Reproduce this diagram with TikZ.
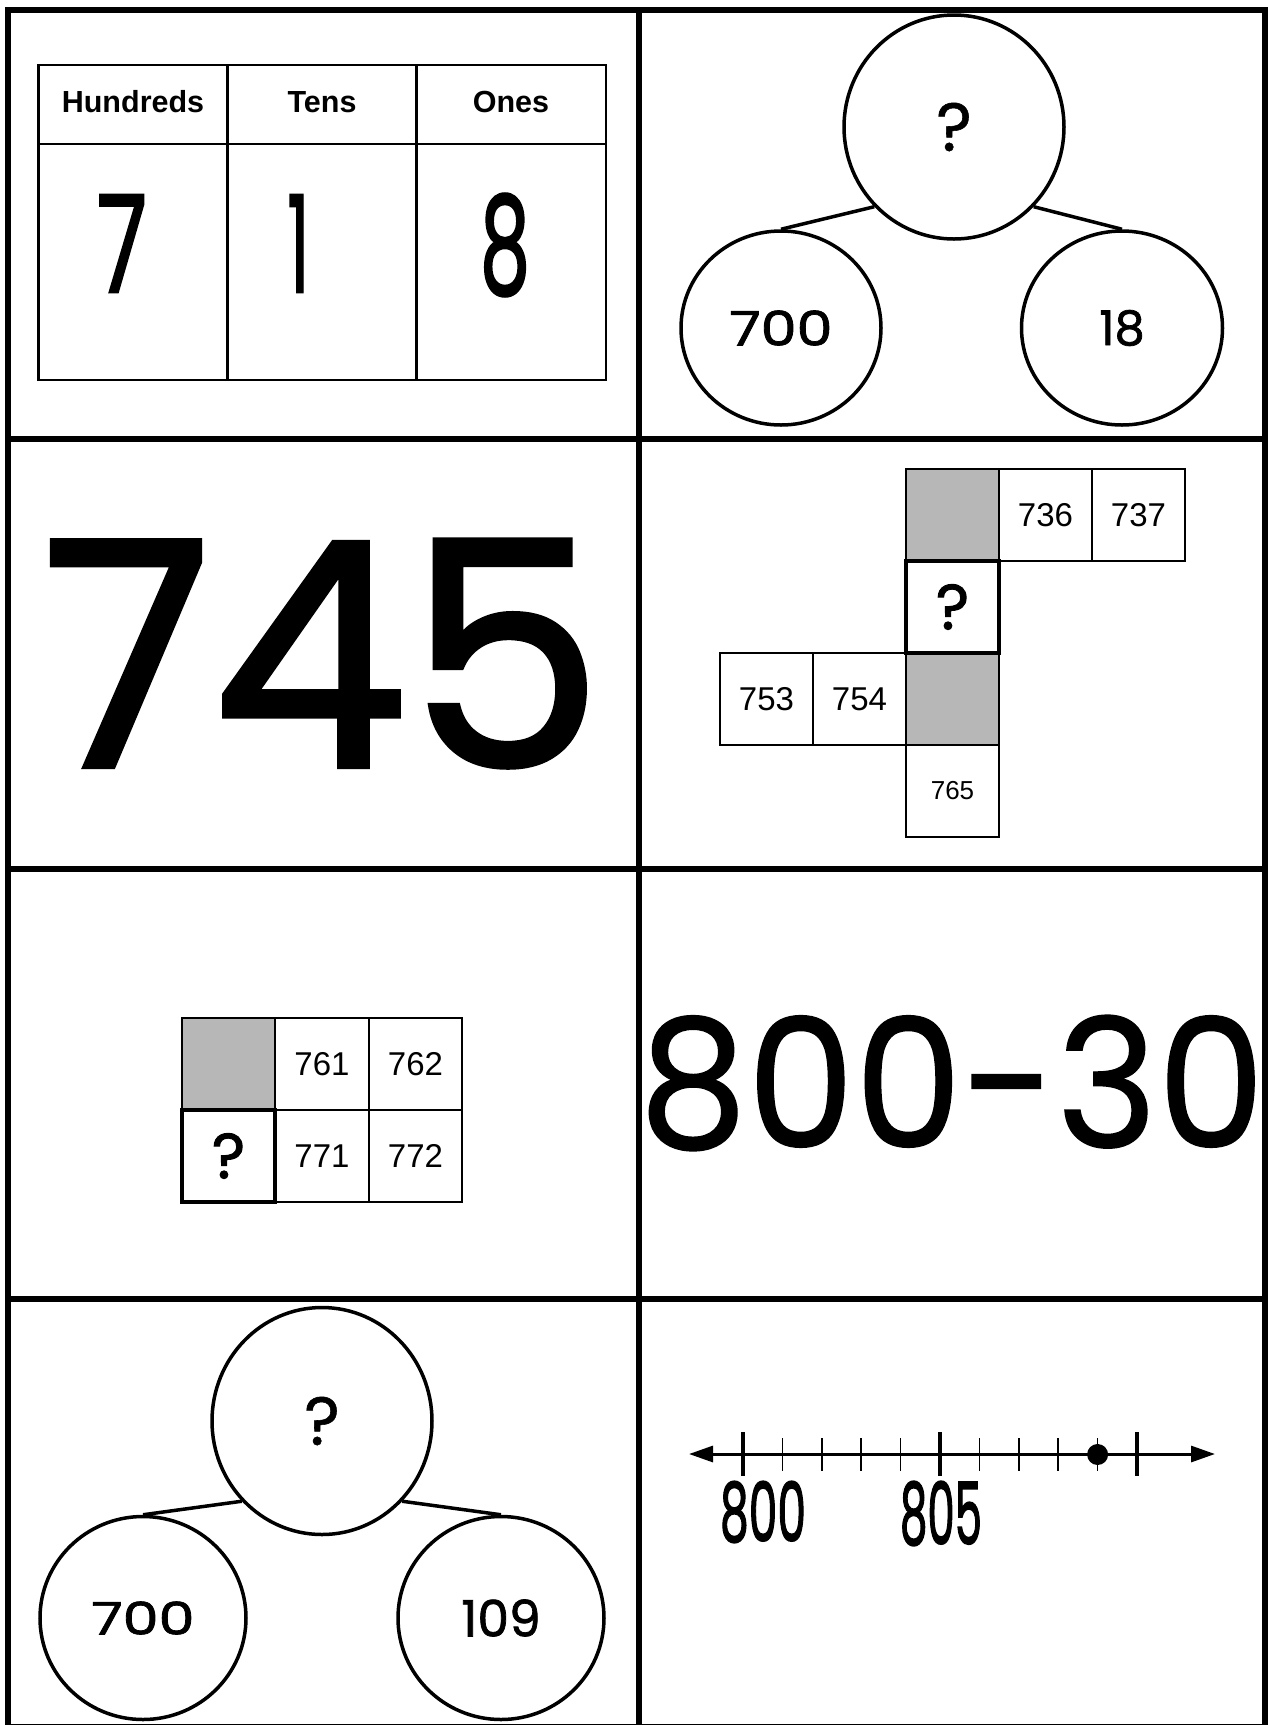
\documentclass[tikz,border=0pt]{standalone}
\usepackage{fontspec}
\usepackage{graphicx}
\setmainfont{Liberation Sans}
\newfontfamily\handA{Poppins}[FakeBold=0.8]
\newfontfamily\handB{Poppins}[FakeBold=1.5]
\newfontfamily\handC{Poppins}[FakeBold=2]
\usetikzlibrary{shapes.geometric,arrows.meta}
\definecolor{cellgray}{RGB}{183,183,183}
\begin{document}
\begin{tikzpicture}[x=1pt,y=-1pt,
  >={Triangle[length=24pt,width=16pt]},
  frameline/.style={line width=6pt},
  tableline/.style={line width=2.6pt},
  bond/.style={draw, ellipse, line width=3.5pt, inner sep=0pt},
  bondlink/.style={line width=3.5pt},
  cellbox/.style={draw, line width=1.3pt, minimum width=93pt, minimum height=92pt, inner sep=0pt, font=\fontsize{33}{33}\selectfont},
  graycell/.style={cellbox, fill=cellgray},
  askbox/.style={cellbox, fill=white, line width=4.5pt},
  header/.style={font=\bfseries\fontsize{30.5}{30.5}\selectfont, inner sep=0pt},
  handtext/.style={inner sep=0pt},
  majortick/.style={line width=4.5pt},
  minortick/.style={line width=1.5pt},
]
\fill[white] (0,0) rectangle (1267,1725);
\useasboundingbox (0,0) rectangle (1267,1725);

% outer frame and dividers
\draw[frameline] (7.5,9.5) rectangle (1265,1727);
\draw[frameline] (638.5,9.5) -- (638.5,1727);
\foreach \yy in {438.5,868.5,1298.5} \draw[frameline] (7.5,\yy) -- (1265,\yy);

% place value table
\draw[tableline] (38.5,65) rectangle (606,380);
\draw[tableline] (38.5,144) -- (606,144);
\draw[tableline] (227.5,65) -- (227.5,380);
\draw[tableline] (416.5,65) -- (416.5,380);
\node[header] (hh) at (133,102) {Hundreds};
\node[header] (ht) at (322,102) {Tens};
\node[header] (ho) at (511,102) {Ones};
\node[handtext] (d7) at (122,243.5) {\resizebox{50pt}{97pt}{\handC 7}};
\node[handtext] (d1) at (298.5,243.5) {\resizebox{22pt}{97pt}{\handC 1}};
\node[handtext] (d8) at (505,245) {\resizebox{50pt}{100pt}{\handC 8}};

% number bond top right
\node[bond, minimum width=220pt, minimum height=224pt] (bTop) at (954,127) {\resizebox{!}{48pt}{\handA ?}};
\node[bond, minimum width=200pt, minimum height=194pt] (bL) at (781,328) {\resizebox{103pt}{35pt}{\handB 700}};
\node[bond, minimum width=201pt, minimum height=194pt] (bR) at (1122,328) {\resizebox{!}{35pt}{\handB 18}};
\draw[bondlink] (bTop.-135) -- (bL.north);
\draw[bondlink] (bTop.-45) -- (bR.north);

% 745
\node[handtext] (n745) at (322.5,653.5) {\resizebox{560pt}{227pt}{\handB 745}};

% hundred chart piece
\node[graycell] (g1) at (952.5,515) {};
\node[cellbox] (c736) at (1045.5,515) {736};
\node[cellbox] (c737) at (1138.5,515) {737};
\node[cellbox] (c753) at (766.5,699) {753};
\node[cellbox] (c754) at (859.5,699) {754};
\node[graycell] (g2) at (952.5,699) {};
\node[cellbox, font=\fontsize{26}{26}\selectfont] (c765) at (952.5,791) {765};
\node[askbox] (q1) at (952.5,607) {\resizebox{!}{45pt}{\handB ?}};

% small chart
\node[graycell] (g3) at (228.5,1064) {};
\node[cellbox] (c761) at (322,1064) {761};
\node[cellbox] (c762) at (415.5,1064) {762};
\node[cellbox] (c771) at (322,1156) {771};
\node[cellbox] (c772) at (415.5,1156) {772};
\node[askbox] (q2) at (228.5,1156) {\resizebox{!}{45pt}{\handB ?}};

% 800-30
\node[handtext] (n800) at (952,1083) {\resizebox{625pt}{132pt}{\handA 800-30}};

% number bond bottom left
\node[bond, minimum width=220pt, minimum height=227pt] (gTop) at (322,1421) {\resizebox{!}{48pt}{\handA ?}};
\node[bond, minimum width=206pt, minimum height=203pt] (gL) at (143,1618) {\resizebox{103pt}{33pt}{\handB 700}};
\node[bond, minimum width=206pt, minimum height=203pt] (gR) at (501,1618) {\resizebox{!}{37pt}{\handB 109}};
\draw[bondlink] (gTop.-135) -- (gL.north);
\draw[bondlink] (gTop.-45) -- (gR.north);

% number line
\coordinate (nlL) at (689,1454);
\coordinate (nlR) at (1215,1454);
\draw[line width=3pt, <->] (nlL) -- (nlR);
\foreach \k in {1,2,3,4,6,7,8,9} \draw[minortick] ({743+39.4*\k},1438) -- ({743+39.4*\k},1471);
\foreach \xx in {743,940,1137} \draw[majortick] (\xx,1432) -- (\xx,1476);
\node[circle, fill, inner sep=0pt, minimum size=21pt] (dot) at (1097.6,1454.5) {};
\node[handtext] (l800) at (763,1512) {\resizebox{86pt}{60pt}{\handC 800}};
\node[handtext] (l805) at (941,1513.5) {\resizebox{82pt}{63pt}{\handC 805}};
\end{tikzpicture}
\end{document}
